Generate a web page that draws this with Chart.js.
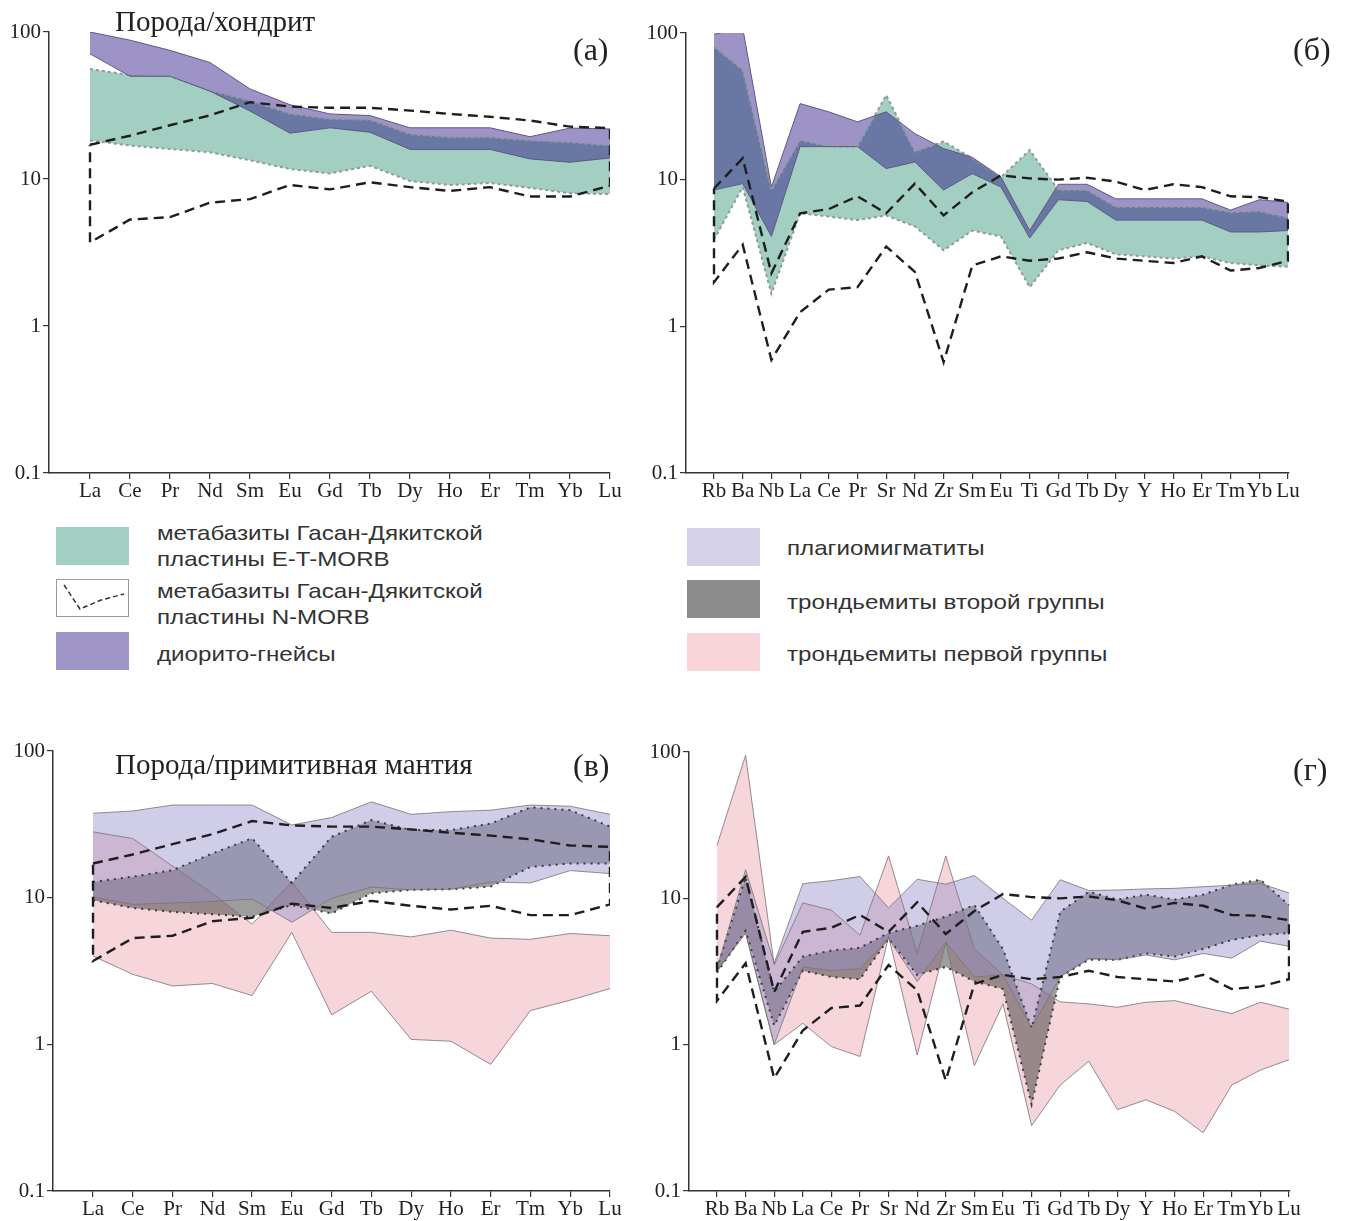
<!DOCTYPE html>
<html lang="ru">
<head>
<meta charset="utf-8">
<script src="https://cdn.jsdelivr.net/npm/chart.js@4.4.1/dist/chart.umd.min.js"></script>
<style>
  html, body { margin: 0; padding: 0; background: #fff; overflow: hidden; }
  #page { position: relative; width: 1349px; height: 1221px; }
  #page canvas { position: absolute; }
  .lbl { position: absolute; font-family: "Liberation Serif", "Times New Roman", serif; color: #222; white-space: nowrap; line-height: 1; }
  .leg { position: absolute; font-family: "Liberation Sans", Arial, sans-serif; font-size: 21px; color: #333; line-height: 26px; white-space: nowrap; transform: scaleX(1.15); transform-origin: 0 0; }
  .sw { position: absolute; width: 73px; height: 38px; }
</style>
</head>
<body>
<div id="page">
  <canvas id="chA" width="635" height="510" style="left:0;top:0"></canvas>
  <canvas id="chB" width="700" height="510" style="left:640px;top:0"></canvas>
  <canvas id="chC" width="635" height="503" style="left:0;top:718px"></canvas>
  <canvas id="chD" width="700" height="503" style="left:640px;top:718px"></canvas>

  <div class="lbl" style="left:115px;top:7px;font-size:29px">Порода/хондрит</div>
  <div class="lbl" style="left:573px;top:33px;font-size:32px">(а)</div>
  <div class="lbl" style="left:1293px;top:33px;font-size:32px">(б)</div>
  <div class="lbl" style="left:115px;top:750px;font-size:29px">Порода/примитивная мантия</div>
  <div class="lbl" style="left:573px;top:749px;font-size:32px">(в)</div>
  <div class="lbl" style="left:1293px;top:753px;font-size:32px">(г)</div>

  <!-- легенда -->
  <div class="sw" style="left:56px;top:527px;background:#a3cfc3"></div>
  <div class="leg" style="left:157px;top:520px">метабазиты Гасан-Дякитской<br>пластины E-T-MORB</div>
  <svg class="sw" style="left:56px;top:579px" width="73" height="38">
    <rect x="0.5" y="0.5" width="72" height="37" fill="#fff" stroke="#999" stroke-width="1"/>
    <polyline points="8,6 24,30 45,21 68,15" fill="none" stroke="#333" stroke-width="1.5" stroke-dasharray="5,3"/>
  </svg>
  <div class="leg" style="left:157px;top:578px">метабазиты Гасан-Дякитской<br>пластины N-MORB</div>
  <div class="sw" style="left:56px;top:632px;background:#9e95c6"></div>
  <div class="leg" style="left:157px;top:641px">диорито-гнейсы</div>

  <div class="sw" style="left:687px;top:528px;background:#d4d1e9"></div>
  <div class="leg" style="left:787px;top:535px">плагиомигматиты</div>
  <div class="sw" style="left:687px;top:580px;background:#8c8c8c"></div>
  <div class="leg" style="left:787px;top:589px">трондьемиты второй группы</div>
  <div class="sw" style="left:687px;top:633px;background:#f7d5da"></div>
  <div class="leg" style="left:787px;top:641px">трондьемиты первой группы</div>
</div>

<script>
// подписи осей
const reeLabels = ['La', 'Ce', 'Pr', 'Nd', 'Sm', 'Eu', 'Gd', 'Tb', 'Dy', 'Ho', 'Er', 'Tm', 'Yb', 'Lu'];
const spiderLabels = ['Rb', 'Ba', 'Nb', 'La', 'Ce', 'Pr', 'Sr', 'Nd', 'Zr', 'Sm', 'Eu', 'Ti', 'Gd', 'Tb', 'Dy', 'Y', 'Ho', 'Er', 'Tm', 'Yb', 'Lu'];
const yTickValues = [0.1, 1, 10, 100];
const yTickLabels = ['0.1', '1', '10', '100'];

// N-MORB (пунктир), одинаковый на (а)/(в) и (б)/(г)
const nmorbReeUpper = [17.1, 19.7, 23.2, 27.1, 33.3, 31.1, 30.5, 30.5, 29.2, 27.7, 26.5, 25, 22.7, 22.2];
const nmorbReeLower = [3.7, 5.3, 5.5, 6.9, 7.3, 9.1, 8.5, 9.5, 8.8, 8.3, 8.8, 7.6, 7.6, 9.0];
const nmorbSpiderUpper = [8.7, 14.0, 2.3, 5.9, 6.3, 7.7, 5.9, 9.4, 5.7, 8.2, 10.7, 10.2, 10.0, 10.3, 9.7, 8.5, 9.3, 8.9, 7.7, 7.6, 7.1];
const nmorbSpiderLower = [2.0, 3.6, 0.59, 1.25, 1.78, 1.85, 3.5, 2.35, 0.57, 2.6, 3.0, 2.8, 2.9, 3.2, 2.9, 2.8, 2.7, 3.0, 2.4, 2.5, 2.8];

// (а) порода/хондрит
const aMorbUpper = [56, 51, 50, 40, 34, 27.8, 25.6, 25.3, 20.2, 19.2, 19.2, 18.3, 17.8, 16.9];
const aMorbLower = [18.3, 16.9, 16.0, 15.2, 13.4, 11.7, 10.9, 12.3, 9.7, 9.1, 9.4, 8.7, 8.0, 7.9];
const aDioriteUpper = [100, 88, 75, 62, 41, 32, 27.7, 27, 22.3, 22.3, 22.3, 19.4, 22.2, 21.9];
const aDioriteLower = [71, 50, 50, 39.6, 29, 20.5, 22.3, 20.8, 15.9, 15.9, 15.9, 13.7, 13.0, 13.9];

// (б) спайдер E-T-MORB и диорито-гнейсы
const bMorbUpper = [80.6, 56, 8.5, 18.6, 16.8, 16.8, 37.7, 15.5, 18.2, 14, 10.4, 15.9, 8.5, 8.5, 6.5, 6.5, 6.5, 6.5, 6.0, 6.1, 5.5];
const bMorbLower = [3.9, 8.9, 1.67, 5.9, 5.6, 5.3, 5.7, 4.8, 3.3, 4.5, 4.1, 1.85, 3.3, 3.7, 3.1, 3.0, 2.9, 3.0, 2.7, 2.6, 2.55];
const bDioriteUpper = [98, 108, 8.9, 33, 29, 24.8, 29, 20.6, 16.3, 14.2, 10.4, 4.5, 9.3, 9.3, 7.4, 7.4, 7.4, 7.4, 6.2, 7.3, 7.0];
const bDioriteLower = [8.5, 9.4, 4.1, 16.8, 16.8, 16.8, 11.9, 13.2, 8.5, 11, 8.9, 4.0, 7.3, 7.1, 5.3, 5.3, 5.3, 5.3, 4.4, 4.4, 4.5];

// (в) порода/примитивная мантия
const cPlagioUpper = [37.6, 39, 42.8, 42.8, 42.8, 31.3, 35.2, 45, 37, 38.6, 39.5, 42.8, 42, 37];
const cPlagioLower = [10.1, 9.0, 9.2, 9.4, 9.8, 6.8, 9.9, 11.8, 11.3, 11.4, 12.8, 12.6, 15.3, 14.6];
const cTrond2Upper = [12.8, 13.9, 15.4, 20, 25.4, 12.6, 26, 33.8, 28.9, 28.9, 32, 41.3, 39.5, 30.5];
const cTrond2Lower = [9.6, 8.5, 8.0, 7.7, 7.4, 8.9, 7.8, 10.7, 11.3, 11.4, 11.9, 16.2, 17.1, 17.1];
const cTrond1Upper = [28.1, 25.3, 16.4, 10.7, 6.6, 12.8, 5.8, 5.8, 5.4, 6.0, 5.3, 5.2, 5.7, 5.5];
const cTrond1Lower = [4.0, 3.0, 2.5, 2.6, 2.15, 5.8, 1.59, 2.3, 1.08, 1.05, 0.73, 1.7, 2.0, 2.4];

// (г) спайдер
const dPlagioUpper = [3.3, 15.7, 3.6, 12.6, 13.2, 14.1, 8.6, 13.5, 12.5, 14.3, 10, 7.1, 13.4, 11.3, 11.4, 11.6, 11.7, 12, 12.3, 12.6, 10.9];
const dPlagioLower = [3.2, 5.8, 1.0, 3.4, 3.2, 3.3, 5.3, 2.7, 5.0, 2.9, 3.0, 1.3, 2.9, 3.9, 3.8, 4.1, 3.8, 4.2, 3.9, 5.1, 4.7];
const dTrond2Upper = [3.3, 14, 2.3, 4.0, 4.4, 4.6, 5.8, 6.5, 7.5, 9.0, 4.5, 1.3, 8.1, 11.1, 9.8, 10.6, 9.8, 10.6, 12.4, 13.4, 9.0];
const dTrond2Lower = [3.1, 6.0, 1.35, 3.2, 2.9, 2.8, 5.3, 3.0, 3.4, 2.7, 2.4, 0.39, 2.9, 3.8, 3.8, 4.2, 4.0, 4.5, 5.2, 5.6, 5.8];
const dTrond1Upper = [23, 95, 3.5, 9.3, 8.3, 5.6, 19.5, 4.2, 19.5, 4.5, 3.0, 2.6, 1.96, 1.9, 1.8, 1.95, 2.0, 1.8, 1.63, 1.95, 1.75];
const dTrond1Lower = [3.2, 5.8, 1.0, 1.4, 0.97, 0.83, 5.5, 0.85, 5.0, 0.72, 1.9, 0.28, 0.53, 0.77, 0.36, 0.42, 0.35, 0.25, 0.53, 0.67, 0.79];

function toPts(arr) {
    return arr.map((v, i) => ({ x: i, y: v }));
}

// полоса = верхняя линия с заливкой до нижней
function band(upper, lower, fillColor, lineColor, dash, width, order) {
    return [
        { data: toPts(upper), fill: '+1', backgroundColor: fillColor, borderColor: lineColor, borderDash: dash, borderWidth: width, order: order },
        { data: toPts(lower), fill: false, borderColor: lineColor, borderDash: dash, borderWidth: width, order: order }
    ];
}

// замкнутый пунктирный контур N-MORB
function morbLoop(upper, lower) {
    const pts = toPts(upper).concat(toPts(lower).reverse());
    pts.push(pts[0]);
    return { data: pts, fill: false, borderColor: '#1e1e1e', borderDash: [10, 6], borderWidth: 2.4, order: 0 };
}

function makeChart(id, labels, xMin, xMax, yW, xH, pad, datasets) {
    return new Chart(document.getElementById(id), {
        type: 'line',
        data: { datasets: datasets },
        options: {
            responsive: false,
            animation: false,
            devicePixelRatio: 1,
            layout: { padding: pad },
            plugins: {
                legend: { display: false },
                tooltip: { enabled: false },
                filler: { drawTime: 'beforeDatasetsDraw' }
            },
            elements: { point: { radius: 0 }, line: { tension: 0 } },
            scales: {
                x: {
                    type: 'linear',
                    min: xMin,
                    max: xMax,
                    afterBuildTicks: s => { s.ticks = labels.map((_, i) => ({ value: i })); },
                    afterFit: s => { s.height = xH; },
                    ticks: {
                        callback: v => labels[v],
                        font: { family: 'Liberation Serif', size: 21 },
                        color: '#222',
                        padding: 0,
                        maxRotation: 0,
                        autoSkip: false
                    },
                    grid: { drawOnChartArea: false, tickLength: 6, color: '#333', lineWidth: 1.2 },
                    border: { color: '#333', width: 1.5 }
                },
                y: {
                    type: 'logarithmic',
                    min: 0.1,
                    max: 100,
                    afterBuildTicks: s => { s.ticks = yTickValues.map(v => ({ value: v })); },
                    afterFit: s => { s.width = yW; },
                    ticks: {
                        callback: (v, i) => yTickLabels[i],
                        font: { family: 'Liberation Serif', size: 21 },
                        color: '#222',
                        padding: 2
                    },
                    grid: { drawOnChartArea: false, tickLength: 6, color: '#333', lineWidth: 1.2 },
                    border: { color: '#333', width: 1.5 }
                }
            }
        }
    });
}

const greenFill = 'rgb(163,206,194)';
const greenLine = '#8e9c98';
const purpleFill = 'rgba(30,5,125,0.43)';
const purpleLine = '#5f5884';
const pinkFill = 'rgba(238,180,188,0.55)';
const lavFill = 'rgba(150,145,205,0.45)';
const grayFill = 'rgba(60,60,60,0.5)';
const thinLine = 'rgba(120,112,120,0.8)';
const dotLine = '#3a3a3a';

document.addEventListener('DOMContentLoaded', function () {
    makeChart('chA', reeLabels, -1.025, 13, 49, 37, { top: 32, right: 25, left: 0, bottom: 0 }, [
        morbLoop(nmorbReeUpper, nmorbReeLower),
        ...band(aDioriteUpper, aDioriteLower, purpleFill, purpleLine, [], 1, 2),
        ...band(aMorbUpper, aMorbLower, greenFill, greenLine, [3, 3], 2, 3)
    ]);

    makeChart('chB', spiderLabels, -0.976, 20.035, 46, 37, { top: 33, right: 51, left: 0, bottom: 0 }, [
        morbLoop(nmorbSpiderUpper, nmorbSpiderLower),
        ...band(bDioriteUpper, bDioriteLower, purpleFill, purpleLine, [], 1, 2),
        ...band(bMorbUpper, bMorbLower, greenFill, greenLine, [3, 3], 2, 3)
    ]);

    makeChart('chC', reeLabels, -1.006, 13, 53, 30, { top: 33, right: 25, left: 0, bottom: 0 }, [
        morbLoop(nmorbReeUpper, nmorbReeLower),
        ...band(cPlagioUpper, cPlagioLower, lavFill, thinLine, [], 1, 2),
        ...band(cTrond2Upper, cTrond2Lower, grayFill, dotLine, [2, 5], 2, 3),
        ...band(cTrond1Upper, cTrond1Lower, pinkFill, thinLine, [], 1, 4)
    ]);

    makeChart('chD', spiderLabels, -0.979, 20.035, 49, 30, { top: 34, right: 50, left: 0, bottom: 0 }, [
        morbLoop(nmorbSpiderUpper, nmorbSpiderLower),
        ...band(dPlagioUpper, dPlagioLower, lavFill, thinLine, [], 1, 2),
        ...band(dTrond2Upper, dTrond2Lower, grayFill, dotLine, [2, 5], 2, 3),
        ...band(dTrond1Upper, dTrond1Lower, pinkFill, thinLine, [], 1, 4)
    ]);
});
</script>
</body>
</html>
